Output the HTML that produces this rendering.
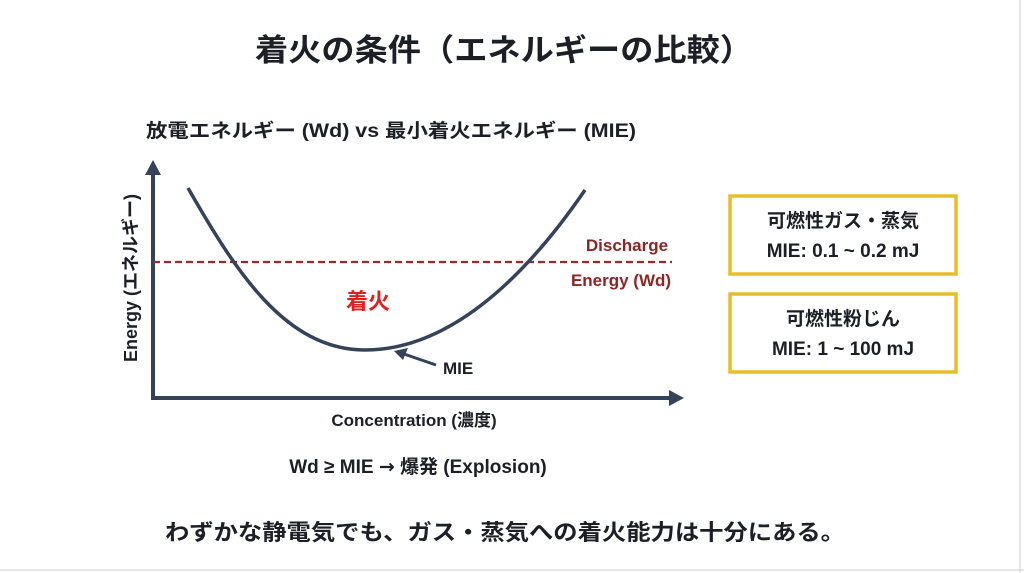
<!DOCTYPE html>
<html><head><meta charset="utf-8"><style>
html,body{margin:0;padding:0;background:#fff;}
svg{display:block;}
text{font-family:"Liberation Sans","Noto Sans CJK JP",sans-serif;font-weight:bold;fill:#1c1f26;}
</style></head><body>
<svg width="1024" height="573" viewBox="0 0 1024 573" xmlns="http://www.w3.org/2000/svg">
<rect x="0" y="0" width="1024" height="573" fill="#fff"/>
<line x1="1020" y1="0" x2="1020" y2="573" stroke="#ddd" stroke-width="1.5"/>
<line x1="0" y1="570" x2="1024" y2="570" stroke="#ddd" stroke-width="1.5"/>
<text x="504" y="61" font-size="31" text-anchor="middle" textLength="498" lengthAdjust="spacingAndGlyphs">着火の条件（エネルギーの比較）</text>
<text x="146" y="137" font-size="19" textLength="490" lengthAdjust="spacingAndGlyphs">放電エネルギー (Wd) vs 最小着火エネルギー (MIE)</text>
<!-- axes -->
<g stroke="#34425a" stroke-width="4" fill="none">
<line x1="153" y1="398" x2="153" y2="172"/>
<line x1="151" y1="398" x2="672" y2="398"/>
</g>
<polygon points="153,160 145,175 161,175" fill="#34425a"/>
<polygon points="684,398 669,390 669,406" fill="#34425a"/>
<text transform="translate(137,278) rotate(-90)" font-size="18" text-anchor="middle">Energy (エネルギー)</text>
<!-- dashed -->
<line x1="153" y1="262" x2="672" y2="262" stroke="#9b2a2a" stroke-width="2.2" stroke-dasharray="7,4"/>
<!-- curve -->
<path d="M188,188 C235,270 285,350 365,350 C445,350 520,285 585,190" fill="none" stroke="#34425a" stroke-width="3.5"/>
<text x="627" y="251" font-size="17" text-anchor="middle" style="fill:#8f2424">Discharge</text>
<text x="621" y="286" font-size="17" text-anchor="middle" style="fill:#8f2424">Energy (Wd)</text>
<text x="368" y="309" font-size="22" text-anchor="middle" style="fill:#e0201c">着火</text>
<line x1="436" y1="365" x2="404" y2="354" stroke="#34425a" stroke-width="3"/>
<polygon points="394,351 408,348 403,360" fill="#34425a"/>
<text x="443" y="374" font-size="17">MIE</text>
<text x="414" y="426" font-size="17" text-anchor="middle">Concentration (濃度)</text>
<text x="418" y="473" font-size="19" text-anchor="middle">Wd ≥ MIE <tspan style="font-family:'DejaVu Sans',sans-serif">→</tspan> 爆発 (Explosion)</text>
<text x="505" y="540" font-size="22" text-anchor="middle" textLength="680" lengthAdjust="spacingAndGlyphs">わずかな静電気でも、ガス・蒸気への着火能力は十分にある。</text>
<!-- boxes -->
<rect x="730" y="196" width="226" height="78" fill="#fff" stroke="#e8bd2a" stroke-width="3.5"/>
<text x="843" y="227" font-size="19" text-anchor="middle">可燃性ガス・蒸気</text>
<text x="843" y="257" font-size="19" text-anchor="middle">MIE: 0.1 ~ 0.2 mJ</text>
<rect x="730" y="294" width="226" height="78" fill="#fff" stroke="#e8bd2a" stroke-width="3.5"/>
<text x="843" y="325" font-size="19" text-anchor="middle">可燃性粉じん</text>
<text x="843" y="355" font-size="19" text-anchor="middle">MIE: 1 ~ 100 mJ</text>
</svg>
</body></html>
